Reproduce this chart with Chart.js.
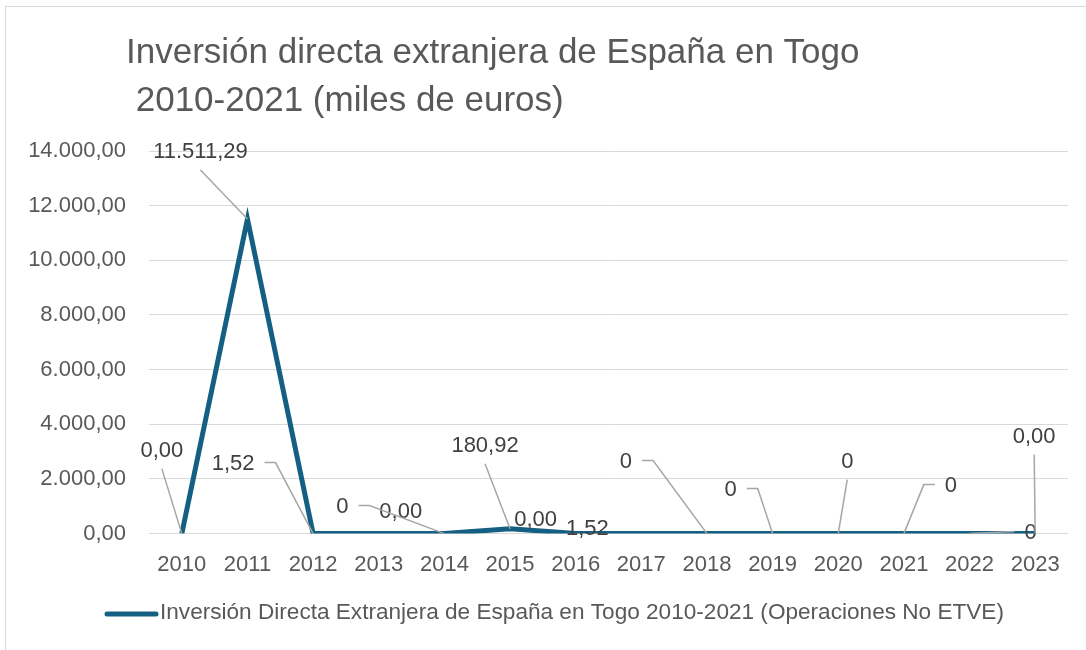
<!DOCTYPE html>
<html><head><meta charset="utf-8">
<script src="https://cdn.jsdelivr.net/npm/chart.js@4.4.1/dist/chart.umd.min.js"></script>
<style>
html,body{margin:0;padding:0;background:#fff;}
#wrap{position:relative;width:1086px;height:650px;overflow:hidden;}
#frame{position:absolute;left:5px;top:6px;width:1200px;height:700px;border-top:1px solid #d9d9d9;border-left:1px solid #d9d9d9;pointer-events:none;}
</style></head>
<body><div id="wrap"><canvas id="c" width="1086" height="650"></canvas><div id="frame"></div></div>
<script>
const years = ['2010','2011','2012','2013','2014','2015','2016','2017','2018','2019','2020','2021','2022','2023'];
const values = [0, 11511.29, 1.52, 0, 0, 180.92, 0, 1.52, 0, 0, 0, 0, 0, 0];
const labelTexts = ['0,00','11.511,29','1,52','0,00','0','180,92','0,00','1,52','0','0','0','0','0','0,00'];
const titleLines = ['Inversión directa extranjera de España en Togo', ' 2010-2021 (miles de euros)'];
const seriesName = 'Inversión Directa Extranjera de España en Togo 2010-2021 (Operaciones No ETVE)';
const yTicks = [0, 2000, 4000, 6000, 8000, 10000, 12000, 14000];

// label placement relative to each point: [dx, dy, leader, segment]
const labelPlace = [
  [-20,-83,'below',0],[-47,-67,'below',0],[-80,-70,'right',11],[22,-22,'none',0],
  [-102,-27,'right',11],[-25,-83,'below',0],[-40,-14,'none',0],[-54,-5,'none',0],
  [-81,-72,'right',11],[-42,-44,'right',11],[9,-72,'below',0],[47,-48,'left',11],
  [61,-1,'left',0],[-1,-97,'below',0]
];

function fmt(v){
  const parts = v.toFixed(2).split('.');
  parts[0] = parts[0].replace(/\B(?=(\d{3})+(?!\d))/g,'.');
  return parts[0]+','+parts[1];
}

const LINE = '#156082';
const TXT = '#595959';
const BASE = '"Liberation Sans", Arial, sans-serif';

const deco = {
  id:'deco',
  afterDraw(chart){
    const ctx = chart.ctx;
    const meta = chart.getDatasetMeta(0);
    ctx.save();
    ctx.font = '22px ' + BASE;
    ctx.textAlign = 'center';
    ctx.textBaseline = 'middle';
    meta.data.forEach((pt,i)=>{
      const [dx,dy,lead,seg] = labelPlace[i];
      const cx = pt.x+dx, cy = pt.y+dy;
      const w = ctx.measureText(labelTexts[i]).width;
      ctx.strokeStyle = '#a6a6a6'; ctx.lineWidth = 1.5;
      if(lead==='below'){
        ctx.beginPath(); ctx.moveTo(cx, cy+18); ctx.lineTo(pt.x, pt.y); ctx.stroke();
      } else if(lead==='right'){
        const sx = cx + w/2 + 10;
        ctx.beginPath(); ctx.moveTo(sx, cy-1); ctx.lineTo(sx+seg, cy-1); ctx.lineTo(pt.x, pt.y); ctx.stroke();
      } else if(lead==='left'){
        const sx = cx - w/2 - 10;
        ctx.beginPath(); ctx.moveTo(sx, cy-1); ctx.lineTo(sx-seg, cy-1); ctx.lineTo(pt.x, pt.y); ctx.stroke();
      }
      ctx.fillStyle = '#404040';
      ctx.fillText(labelTexts[i], cx, cy);
    });
    // title
    ctx.textAlign = 'left';
    ctx.textBaseline = 'alphabetic';
    ctx.fillStyle = TXT;
    ctx.font = '35px ' + BASE;
    ctx.fillText(titleLines[0], 126, 63);
    ctx.fillText(titleLines[1], 126, 111);
    // legend
    ctx.strokeStyle = LINE; ctx.lineWidth = 5; ctx.lineCap = 'round';
    ctx.beginPath(); ctx.moveTo(107, 614); ctx.lineTo(156, 614); ctx.stroke();
    ctx.font = '22.6px ' + BASE;
    ctx.textBaseline = 'middle';
    ctx.fillText(seriesName, 160, 613);
    ctx.restore();
  }
};

new Chart(document.getElementById('c'), {
  type:'line',
  data:{ labels: years, datasets:[{ label: seriesName, data: values, borderColor: LINE, backgroundColor: LINE, borderWidth: 5, pointRadius: 0, tension: 0, borderJoinStyle:'miter' }]},
  options:{
    responsive:false, animation:false,
    layout:{ padding:{ top:151, right:18, bottom:54, left:0 } },
    plugins:{ legend:{display:false}, title:{display:false}, tooltip:{enabled:false} },
    scales:{
      x:{ offset:true, grid:{display:false, drawTicks:false}, border:{display:false},
          ticks:{ color:TXT, font:{ size:22, family:BASE }, padding:18, maxRotation:0 } },
      y:{ min:0, max:14000, afterBuildTicks(s){ s.ticks = yTicks.map(v=>({value:v})); },
          afterFit(s){ s.width = 149; },
          grid:{ color:'#d9d9d9', lineWidth:1, drawTicks:false }, border:{display:false},
          ticks:{ color:TXT, font:{ size:22, family:BASE }, padding:23, callback:v=>fmt(v) } }
    }
  },
  plugins:[deco]
});
</script>
</body></html>
